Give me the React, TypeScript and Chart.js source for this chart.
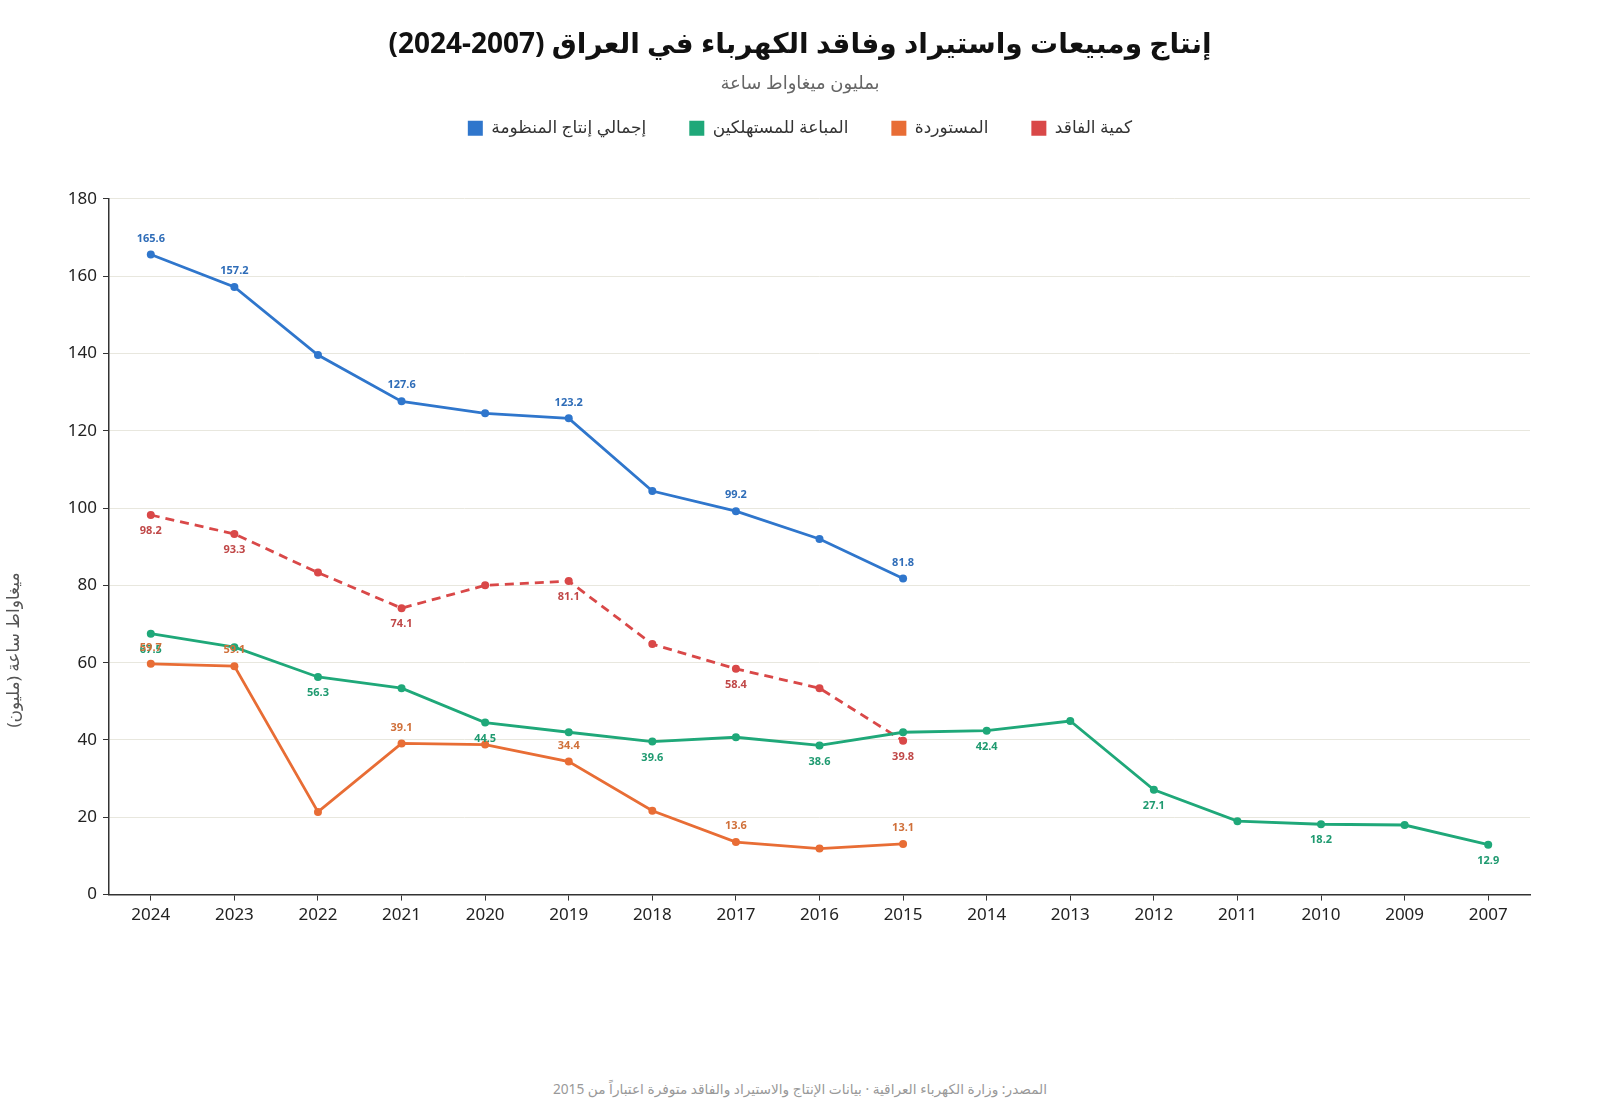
import React, { useEffect, useRef } from 'react';
import { Chart, registerables } from 'chart.js';

Chart.register(...registerables);

const years = ['2024', '2023', '2022', '2021', '2020', '2019', '2018', '2017', '2016', '2015', '2014', '2013', '2012', '2011', '2010', '2009', '2007'];

// million MWh, null where no data (before 2015)
const totalProduction = [165.6, 157.2, 139.6, 127.6, 124.5, 123.2, 104.4, 99.2, 92.0, 81.8, null, null, null, null, null, null, null];
const soldToConsumers = [67.5, 64.0, 56.3, 53.4, 44.5, 42.0, 39.6, 40.7, 38.6, 42.0, 42.4, 44.9, 27.1, 19.0, 18.2, 18.0, 12.9];
const imported = [59.7, 59.1, 21.4, 39.1, 38.8, 34.4, 21.7, 13.6, 11.9, 13.1, null, null, null, null, null, null, null];
const losses = [98.2, 93.3, 83.3, 74.1, 80.0, 81.1, 64.8, 58.4, 53.4, 39.8, null, null, null, null, null, null, null];

const yTicks = [0, 20, 40, 60, 80, 100, 120, 140, 160, 180];

const FONT = "'Noto Sans', 'DejaVu Sans', sans-serif";

// draws value labels on the last point and every second point back from it (plus the first)
const valueLabels = {
  id: 'valueLabels',
  afterDatasetsDraw(chart: Chart) {
    const ctx = chart.ctx;
    ctx.save();
    ctx.font = `bold 11px ${FONT}`;
    ctx.textAlign = 'center';
    ctx.textBaseline = 'middle';
    chart.data.datasets.forEach((ds: any, di: number) => {
      const meta = chart.getDatasetMeta(di);
      const vals = ds.data as (number | null)[];
      let last = vals.length - 1;
      while (last > 0 && vals[last] == null) last--;
      const above = ds.labelPos === 'top';
      meta.data.forEach((pt: any, i: number) => {
        const v = vals[i];
        if (v == null) return;
        if (!(i === 0 || (last - i) % 2 === 0)) return;
        ctx.fillStyle = ds.labelColor;
        ctx.fillText(v.toFixed(1), pt.x, above ? pt.y - 16 : pt.y + 16);
      });
    });
    ctx.restore();
  },
};

// more room between the legend and the plot
const legendGap = {
  id: 'legendGap',
  beforeInit(chart: any) {
    const fit = chart.legend.fit;
    chart.legend.fit = function () {
      fit.call(this);
      this.height += 52;
    };
  },
};

// rotated y-axis title, drawn lower than the axis middle like the original
const yTitle = {
  id: 'yTitle',
  afterDraw(chart: Chart) {
    const ctx = chart.ctx;
    ctx.save();
    ctx.translate(14, 650);
    ctx.rotate(-Math.PI / 2);
    ctx.font = `17px ${FONT}`;
    ctx.fillStyle = '#555';
    ctx.textAlign = 'center';
    ctx.textBaseline = 'middle';
    ctx.fillText('ميغاواط ساعة (مليون)', 0, 0);
    ctx.restore();
  },
};

const App: React.FC = () => {
  const chartRef = useRef<HTMLCanvasElement>(null);
  const chartInstance = useRef<Chart | null>(null);

  useEffect(() => {
    document.body.style.margin = '0';
    if (!chartRef.current) return;
    if (chartInstance.current) chartInstance.current.destroy();
    const ctx = chartRef.current.getContext('2d');
    if (!ctx) return;

    chartInstance.current = new Chart(ctx, {
      type: 'line',
      data: {
        labels: years,
        datasets: [
          {
            label: 'إجمالي إنتاج المنظومة',
            data: totalProduction,
            borderColor: '#2f76cc',
            backgroundColor: '#2f76cc',
            labelColor: '#2f6db8',
            labelPos: 'top',
          },
          {
            label: 'المباعة للمستهلكين',
            data: soldToConsumers,
            borderColor: '#1fa879',
            backgroundColor: '#1fa879',
            labelColor: '#1f9a70',
            labelPos: 'bottom',
          },
          {
            label: 'المستوردة',
            data: imported,
            borderColor: '#e86d35',
            backgroundColor: '#e86d35',
            labelColor: '#d0703a',
            labelPos: 'top',
          },
          {
            label: 'كمية الفاقد',
            data: losses,
            borderColor: '#d94848',
            backgroundColor: '#d94848',
            labelColor: '#c04848',
            labelPos: 'bottom',
            borderDash: [9, 6],
          },
        ] as any,
      },
      options: {
        responsive: true,
        maintainAspectRatio: false,
        animation: false,
        spanGaps: false,
        elements: {
          line: { borderWidth: 2.8, tension: 0 },
          point: { radius: 4, hoverRadius: 5, borderWidth: 0 },
        },
        layout: { padding: { left: 0, right: 0, top: 0, bottom: 131 } },
        scales: {
          x: {
            offset: true,
            grid: { display: true, drawOnChartArea: false, tickColor: '#333', tickLength: 6 },
            border: { color: '#333', width: 1.5 },
            ticks: { color: '#222', font: { size: 17, family: FONT }, padding: 4 },
          },
          y: {
            min: 0,
            max: 180,
            afterBuildTicks: (axis: any) => {
              axis.ticks = yTicks.map((v) => ({ value: v }));
            },
            afterFit: (axis: any) => {
              axis.width = 109;
            },
            grid: { color: '#e8e7de', tickColor: '#333', tickLength: 6 },
            border: { color: '#333', width: 1.5 },
            ticks: { color: '#222', font: { size: 17, family: FONT }, padding: 6 },
          },
          // empty right-hand axis, keeps the plot off the right edge
          yRight: {
            type: 'linear',
            position: 'right',
            display: true,
            grid: { display: false },
            border: { display: false },
            ticks: { display: false },
            afterFit: (axis: any) => {
              axis.width = 70;
            },
          },
        },
        plugins: {
          title: {
            display: true,
            text: 'إنتاج ومبيعات واستيراد وفاقد الكهرباء في العراق (2007-2024)',
            color: '#111',
            font: { size: 28, weight: 'bold', family: FONT },
            padding: { top: 28, bottom: 11.6 },
          },
          subtitle: {
            display: true,
            text: 'بمليون ميغاواط ساعة',
            color: '#666',
            font: { size: 18, family: FONT },
            padding: { top: 0, bottom: -18 },
          },
          legend: {
            display: true,
            labels: {
              boxWidth: 15,
              boxHeight: 15,
              padding: 43,
              color: '#333',
              font: { size: 17, family: FONT },
              generateLabels: (chart: Chart) =>
                chart.data.datasets.map((ds: any, i: number) => ({
                  text: ds.label,
                  fillStyle: ds.borderColor,
                  strokeStyle: ds.borderColor,
                  lineWidth: 0,
                  hidden: !chart.isDatasetVisible(i),
                  datasetIndex: i,
                  fontColor: '#333',
                })),
            },
          },
          tooltip: { enabled: false },
        },
      },
      plugins: [valueLabels, legendGap, yTitle],
    } as any);

    return () => {
      if (chartInstance.current) {
        chartInstance.current.destroy();
        chartInstance.current = null;
      }
    };
  }, []);

  return (
    <div style={{ width: 1600, height: 1120, position: 'relative', background: '#fff', fontFamily: FONT }}>
      <div style={{ position: 'absolute', left: 0, top: 0, width: 1600, height: 1060 }}>
        <canvas ref={chartRef}></canvas>
      </div>
      <div
        style={{ position: 'absolute', left: 0, top: 1079, width: 1600, textAlign: 'center', fontSize: 13.7, color: '#999' }}
        dir="rtl"
      >
        المصدر: وزارة الكهرباء العراقية · بيانات الإنتاج والاستيراد والفاقد متوفرة اعتباراً من 2015
      </div>
    </div>
  );
};

export default App;
